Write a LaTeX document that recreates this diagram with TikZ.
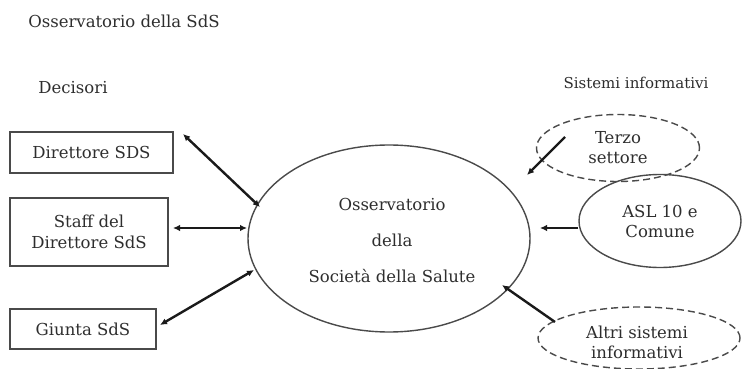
\documentclass[tikz,border=0pt]{standalone}
\usepackage{fontspec}
\setmainfont{DejaVu Serif}
\usetikzlibrary{arrows.meta,shapes.geometric}
\definecolor{txt}{HTML}{2E2E2E}
\definecolor{edge}{HTML}{4A4A4A}
\definecolor{arr}{HTML}{1A1A1A}
\begin{document}
\begin{tikzpicture}[x=1pt,y=-1pt,
  lbl/.style={text=txt,font=\fontsize{16.5}{21}\selectfont,inner sep=0pt,align=center},
  decbox/.style={draw=edge,line width=1.6pt,rectangle,inner sep=0pt,text=txt,
     font=\fontsize{16.5}{21}\selectfont,align=center},
  srcell/.style={draw=edge,line width=1.4pt,ellipse,inner sep=0pt,text=txt,
     font=\fontsize{16.5}{20}\selectfont,align=center},
  dashell/.style={srcell,dash pattern=on 7pt off 4pt},
  link/.style={draw=arr,line width=2.4pt,-{Latex[length=7pt,width=6.5pt]}},
  duo/.style={draw=arr,line width=2.4pt,{Latex[length=7pt,width=6.5pt]}-{Latex[length=7pt,width=6.5pt]}}]
\useasboundingbox[fill=white] (0,0) rectangle (742,369);

% headings
\node[lbl] (title) at (124,21) {Osservatorio della SdS};
\node[lbl] (decisori) at (73,88) {Decisori};
\node[lbl,font=\fontsize{15}{19}\selectfont] (sistemi) at (636,83) {Sistemi informativi};

% decision makers
\node[decbox,minimum width=163pt,minimum height=41pt] (dir) at (91.5,152.5) {Direttore SDS};
\node[decbox,minimum width=158pt,minimum height=68pt] (staff) at (89,232) {Staff del\\Direttore SdS};
\node[decbox,minimum width=146pt,minimum height=40pt] (giunta) at (83,329) {Giunta SdS};

% central observatory
\node[srcell,minimum width=282pt,minimum height=187pt] (oss) at (389,238.5) {};
\node[lbl] (osst1) at (392,204) {Osservatorio};
\node[lbl] (osst2) at (392,240) {della};
\node[lbl] (osst3) at (392,276) {Società della Salute};

% information systems
\node[dashell,minimum width=163pt,minimum height=67pt] (terzo) at (618,148) {Terzo\\settore};
\node[srcell,minimum width=162pt,minimum height=93pt] (asl) at (660,221) {ASL 10 e\\Comune};
\node[dashell,minimum width=202pt,minimum height=62pt] (altri) at (639,338) {};
\node[lbl,font=\fontsize{16.5}{20}\selectfont] (altrit) at (637,342) {Altri sistemi\\informativi};

% connector end points
\coordinate (d1) at (183,134);  \coordinate (o1) at (260,207);
\coordinate (d2) at (173,228);  \coordinate (o2) at (247,228);
\coordinate (d3) at (160,325);  \coordinate (o3) at (254,270);
\coordinate (t1) at (565,137);  \coordinate (t2) at (527,175);
\coordinate (s1) at (578,228);  \coordinate (s2) at (540,228);
\coordinate (a1) at (555,322);  \coordinate (a2) at (502,285);

\draw[duo] (d1) -- (o1);
\draw[duo] (d2) -- (o2);
\draw[duo] (d3) -- (o3);
\draw[link] (t1) -- (t2);
\draw[link] (s1) -- (s2);
\draw[link] (a1) -- (a2);
\end{tikzpicture}
\end{document}
